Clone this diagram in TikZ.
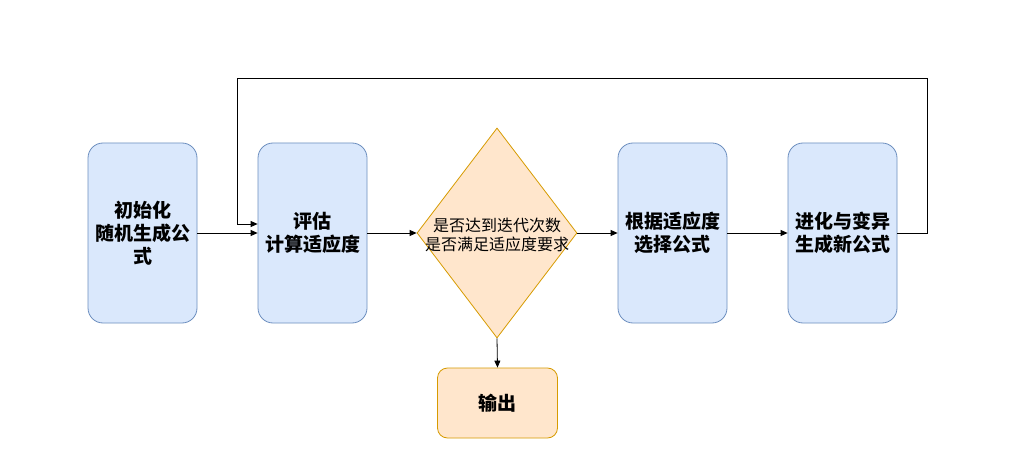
\documentclass[tikz,border=0pt]{standalone}
\usepackage{fontspec}
\setmainfont{Noto Sans CJK SC}
\usetikzlibrary{shapes.geometric,arrows.meta}
\definecolor{bfill}{HTML}{DAE8FC}
\definecolor{bdraw}{HTML}{6C8EBF}
\definecolor{ofill}{HTML}{FFE6CC}
\definecolor{odraw}{HTML}{D79B00}
\begin{document}
\begin{tikzpicture}[x=1pt,y=-1pt,
  bluebox/.style={draw=bdraw,fill=bfill,rounded corners=15pt,minimum width=109pt,minimum height=180pt,inner sep=0pt,align=center,font=\fontsize{19}{23}\selectfont\bfseries,line width=0.8pt},
  orbox/.style={draw=odraw,fill=ofill,rounded corners=10pt,minimum width=120pt,minimum height=70pt,inner sep=0pt,align=center,font=\fontsize{19}{23}\selectfont\bfseries,line width=0.8pt},
  dia/.style={draw=odraw,fill=ofill,diamond,aspect=0.757,minimum width=160pt,minimum height=210pt,inner sep=0pt,align=center,line width=0.8pt},
  arr/.style={-{Triangle[length=7pt,width=6pt]},line width=0.8pt}]
\useasboundingbox (0,0) rectangle (1017,470);
\fill[white] (0,0) rectangle (1017,470);
\node[bluebox] (b1) at (142.5,233) {初始化\\随机生成公\\式};
\node[bluebox] (b2) at (312.5,233) {评估\\计算适应度};
\node[dia] (d) at (497,233) {};
\node[font=\fontsize{16}{18.5}\selectfont,align=center] (dt) at (497,235) {是否达到迭代次数\\是否满足适应度要求};
\node[bluebox] (b3) at (672.5,233) {根据适应度\\选择公式};
\node[bluebox] (b4) at (842.5,233) {进化与变异\\生成新公式};
\node[orbox] (o) at (497.5,403) {输出};
\coordinate (c1) at (927,233);
\coordinate (c2) at (927,78);
\coordinate (c3) at (237,78);
\coordinate (c4) at (237,224);
\draw[arr] (b1.east) -- (b2.west);
\draw[arr] (b2.east) -- (d.west);
\draw[arr] (d.east) -- (b3.west);
\draw[arr] (b3.east) -- (b4.west);
\draw[arr] (d.south) -- (o.north);
\draw[arr] (b4.east) -- (c1) -- (c2) -- (c3) -- (c4) -- (c4 -| b2.west);
\end{tikzpicture}
\end{document}
